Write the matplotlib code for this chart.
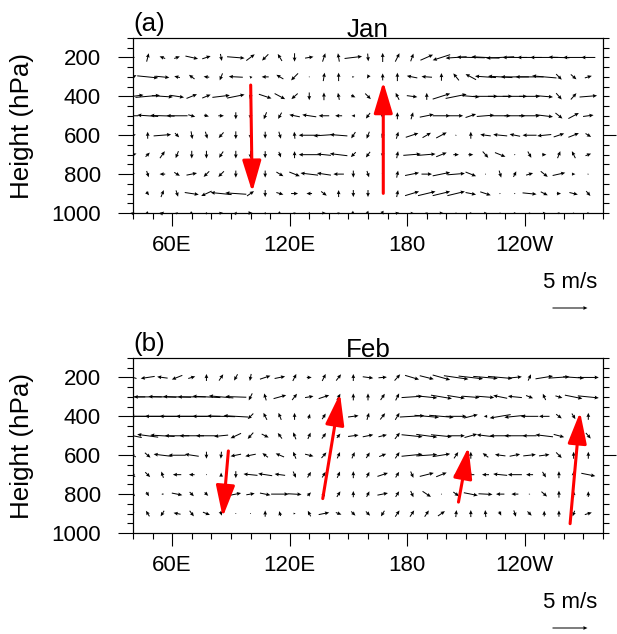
import numpy as np
import matplotlib
matplotlib.use('Agg')
import matplotlib.pyplot as plt
from matplotlib.ticker import FixedLocator, NullFormatter

plt.rcParams['font.family'] = ['Liberation Sans', 'DejaVu Sans']

# ---------------- data ----------------
LONS = [40, 47.5, 55, 62.5, 70, 77.5, 85, 92.5, 100, 107.5, 115, 122.5, 130, 137.5,
        145, 152.5, 160, 167.5, 175, 182.5, 190, 197.5, 205, 212.5, 220, 227.5, 235,
        242.5, 250, 257.5, 265, 272.5]
LEVELS = [200, 300, 400, 500, 600, 700, 800, 900]

XTICK_POS = [60, 120, 180, 240]
XTICK_LABELS = ['60E', '120E', '180', '120W']
YTICK_POS = [200, 400, 600, 800, 1000]
YTICK_LABELS = ['200', '400', '600', '800', '1000']

# January: zonal wind u and scaled vertical velocity w, rows = LEVELS
JAN_U = [
    [0.6, 0.3, -0.8, 0.8, 1.8, 1.2, 0.2, 2.5, 1.2, -0.9, -0.6, 0.0, 1.2, 0.4, -0.2, 2.5, 0.1, 0.0, 0.6, 0.4, 1.8, -2.5, -3.0, -4.0, -4.0, -4.0, -3.5, -3.5, -4.0, -3.0, -3.0, -2.0],
    [1.0, 3.0, 2.0, -0.8, -0.8, -0.8, -0.4, -2.0, -0.3, -1.0, -1.0, -1.0, 0.1, 0.2, 0.0, 0.3, -0.3, 0.0, 0.0, -1.5, -1.5, 0.0, -0.8, -1.5, -3.0, -3.5, -4.0, -4.0, -3.5, 0.8, 0.8, 1.0],
    [3.0, 3.5, 3.0, 2.0, 1.5, 1.2, 2.5, 2.5, -0.2, 1.8, 1.5, -0.9, 0.0, 0.0, -0.2, 0.6, 0.8, -0.4, -0.5, 1.5, 0.0, 2.5, 3.0, 2.5, 3.5, 3.5, 3.5, 3.0, 2.5, 0.8, 0.8, 2.5],
    [-1.5, -3.0, -3.5, -3.0, 1.0, 0.7, 0.8, 0.0, 0.0, -0.4, -0.5, -1.5, -2.0, -1.5, -1.0, -0.5, -0.6, 0.0, 0.0, 0.3, 2.0, 2.5, 2.0, 1.5, 2.5, 3.0, 3.0, 3.0, 2.5, 1.0, 1.5, 1.5],
    [0.8, 0.0, 2.5, 0.6, 0.2, 0.3, -0.7, 0.0, 0.0, 0.0, 0.3, -0.1, -3.0, -3.0, -2.5, -0.6, -0.4, -0.3, 0.3, 1.8, 1.2, 1.5, 0.2, 0.0, -1.5, -2.0, -1.5, -2.0, -2.0, 1.5, 1.5, 0.8],
    [1.0, 0.6, 0.7, -0.4, 0.0, 0.0, -0.6, 0.0, 0.0, 0.0, 0.3, 0.0, -3.0, -2.0, -2.5, -0.7, -0.6, 0.0, 0.2, 2.5, 2.5, 1.5, 0.8, 0.7, 0.8, 1.5, 0.2, 0.5, 0.6, 0.4, -0.5, 0.8],
    [0.5, 0.3, -0.8, 0.8, 1.5, -0.8, -0.8, 0.0, 0.0, 0.0, 1.0, 1.5, -2.5, -2.0, -1.5, 0.0, 0.3, 0.0, 0.2, 2.0, 1.5, 2.5, 2.5, 1.5, 0.1, 0.3, 0.4, 1.0, 1.0, 1.8, 0.5, 0.2],
    [0.3, 0.4, 0.4, 0.3, 2.0, -1.5, -3.0, -3.0, 1.0, 0.0, 1.0, 1.0, -0.8, 0.8, 0.0, 0.0, 0.0, 0.0, 0.2, 2.0, 2.5, 2.5, 2.5, 1.5, 1.5, 0.2, 0.2, 2.0, 1.0, 0.6, 1.2, 0.6],
]
JAN_W = [
    [0.1, 1.2, 0.3, 0.3, -0.4, 0.4, -1.0, -0.2, 0.9, -0.9, 1.0, -1.2, 0.2, 1.2, 1.2, 0.3, -1.1, 1.3, 1.2, 1.1, 0.8, -0.8, -0.2, 0.1, 0.2, -0.2, 0.0, 0.0, 0.0, 0.1, 0.0, 0.0],
    [0.5, -0.3, -0.2, 0.2, 0.6, 0.1, -1.0, 0.1, 0.3, 0.0, 0.6, -1.0, 0.0, 1.2, 1.2, 0.0, -0.5, 1.0, 1.2, 0.3, 0.1, 1.1, 1.0, 0.8, 0.2, 0.2, 0.0, 0.0, 0.3, -0.8, -0.7, 0.3],
    [0.4, 0.3, -0.2, -0.3, 0.6, 0.5, 0.3, 0.5, -0.8, -0.6, -0.8, -0.8, -1.1, 1.1, 1.0, -0.3, -0.8, 1.0, 1.0, -0.2, 1.0, 0.8, 0.6, -0.2, 0.0, 0.0, 0.0, 0.0, -0.2, -0.9, 0.9, 0.2],
    [0.0, 0.2, 0.1, 0.0, -0.3, -0.2, 0.0, -1.0, -1.0, -1.0, -0.9, 0.3, 0.3, 0.0, 0.0, 0.0, -0.8, -0.9, 1.0, 1.0, 0.4, 0.0, 0.0, 0.5, 0.2, 0.0, 0.0, 0.0, -0.3, -0.8, 0.8, 0.2],
    [0.2, 1.0, 0.2, -0.6, -1.1, -1.0, -0.8, -1.1, -1.1, -1.0, -1.0, 1.0, 0.0, -0.2, 0.2, -0.9, -1.0, -0.8, 1.0, 0.6, 0.7, 0.8, 0.0, 1.0, 0.2, 0.2, 0.3, 0.0, -0.2, 0.5, 0.6, -0.5],
    [0.3, 0.6, 1.0, -1.0, -1.1, -1.1, -0.9, -1.1, -1.1, -1.0, -0.8, 1.0, 0.0, 0.2, 0.3, -0.7, -0.8, -0.8, 1.0, 0.2, 0.2, 0.6, 0.0, 0.0, -0.9, -0.6, 0.0, -0.9, 0.0, 1.0, 1.0, 0.3],
    [0.3, -0.9, 0.0, -0.5, 0.3, -0.8, -0.8, -1.0, -1.0, -1.0, -0.6, -0.6, 0.3, 0.3, 0.0, -1.0, -0.9, -0.3, 1.0, 0.4, 0.0, 0.5, 0.2, -0.6, 0.0, -1.0, 0.8, 0.3, -0.8, 0.4, 0.0, 0.0],
    [0.0, -0.5, 1.0, -0.9, -0.3, -0.7, 0.3, 0.2, 0.7, -1.0, -0.3, 0.0, 0.0, -0.6, 1.0, -1.0, -1.0, 0.1, 1.0, 0.6, 0.6, 0.6, 0.6, -0.3, -0.5, 0.0, 0.0, -0.2, -0.5, 0.0, -0.3, -0.7],
]
# near-surface (1000 hPa) January vectors, drawn on the bottom frame
JAN_U_1000 = [0.4, 0.3, 0.5, 0.3, 0.4, 0.2, 0.5, 0.3, 0.6, 0.2, 0.4, 0.3, 0.2, 0.5, 0.3, 0.4,
              0.3, 0.2, 0.5, 0.4, 0.3, 0.5, 0.2, 0.3, 0.4, 0.2, 0.3, 0.2, 0.4, 0.3, 0.2, 0.3]
JAN_W_1000 = [0.3, -0.3, 0.4, 0.2, -0.2, 0.3, 0.1, 0.4, 0.0, 0.3, -0.2, 0.2, 0.3, 0.0, 0.2, -0.3,
              -0.4, -0.5, 0.1, 0.0, 0.2, 0.0, 0.1, 0.0, 0.0, 0.1, 0.0, 0.2, 0.0, 0.1, 0.0, 0.0]

FEB_U = [
    [-1.0, -2.0, -1.5, -1.5, 1.0, 0.0, 0.6, -0.5, -0.2, 1.5, 1.5, 0.5, 0.7, 0.5, 0.7, 0.0, 1.5, 1.2, 0.8, 2.0, 2.0, 2.5, 3.5, 3.5, 3.5, 3.5, 2.0, 0.4, 2.5, 3.0, 3.0, 3.0],
    [-3.5, -4.0, -4.0, -4.0, -4.0, -4.0, -3.5, -3.0, -0.5, -0.3, 1.8, 0.7, 1.2, 1.5, 0.5, 0.0, 0.0, 0.6, 0.5, 3.0, 3.0, 3.0, 2.5, 2.5, 2.5, -2.0, -2.0, 1.0, -0.4, 1.0, 2.5, 3.0],
    [-4.5, -5.0, -5.0, -5.0, -4.5, -4.0, -4.0, -3.5, -0.8, -0.5, -0.4, 0.0, 0.2, 0.5, 0.3, 1.5, 0.3, 0.7, 0.6, 3.5, 3.5, 3.5, 3.0, 2.0, -0.5, -3.0, -3.0, -2.5, -1.5, 0.8, 0.5, 0.0],
    [-2.5, -3.0, -3.5, -3.5, -3.5, -3.0, -2.0, -1.5, -0.8, 1.0, -0.6, -0.4, 0.4, 0.6, 0.5, 1.5, 1.5, 1.2, 0.7, 3.0, 3.0, 3.0, 2.5, 1.8, -2.5, -3.0, -3.0, -2.0, -2.5, 1.5, 0.3, 0.7],
    [-0.8, 0.8, -2.5, -2.5, -2.0, 0.0, -0.1, -1.5, -1.5, -0.8, -1.2, -0.4, 1.2, 0.7, 0.4, 0.4, 0.5, 1.0, 0.6, 3.0, 3.0, 2.5, 0.6, 0.0, -0.8, -1.5, 1.5, 1.8, 1.5, 0.8, 0.0, 0.0],
    [-0.6, 0.7, -0.3, -1.2, -0.8, 0.1, 0.0, 0.0, -2.0, -2.0, -1.5, 0.4, 0.5, 0.5, 0.4, 0.0, 0.4, 1.5, 0.5, 0.4, 2.0, 1.5, 0.3, -1.0, -1.0, -2.0, -2.0, -1.0, 0.5, 0.0, 0.0, 2.0],
    [0.6, 0.4, -0.3, 1.5, 0.6, 0.5, 0.0, 1.5, 1.2, 1.5, 2.5, 2.0, 0.5, 0.3, 0.5, 0.0, 0.4, 1.5, 0.5, 0.4, 1.2, 0.1, 0.8, 2.0, 2.0, -1.2, -1.0, 0.2, 0.8, 0.0, 0.0, 0.0],
    [0.4, -0.5, -0.5, -1.0, 0.6, 1.0, 0.2, 0.1, 0.1, 0.0, -0.2, 0.3, -0.4, 1.5, 0.8, 0.6, 0.6, -0.5, 0.6, 0.6, 0.6, 1.0, 0.1, 0.0, -0.1, 0.3, 0.3, 0.6, 0.0, 0.0, -0.3, 1.0],
]
FEB_W = [
    [0.3, -0.3, 0.2, -0.6, 0.3, 1.0, 0.9, -0.9, -1.0, 0.5, 0.3, 1.0, 0.0, 1.0, 0.9, 1.0, -0.2, 0.1, 0.9, -0.6, -0.5, -0.7, -0.5, -0.4, -0.3, -0.3, 0.2, 0.9, 0.4, 0.2, -0.2, 0.0],
    [0.0, 0.0, 0.1, 0.1, 0.0, 0.2, 0.3, 0.1, -1.0, 1.0, 0.5, 0.9, 0.2, 0.5, 0.9, 1.0, 1.0, 0.9, 1.0, 0.2, -0.3, -0.5, -0.4, -0.2, -0.2, 0.4, 0.2, -0.4, 0.9, -0.3, -0.5, -0.3],
    [0.0, 0.0, 0.0, 0.0, 0.0, 0.0, 0.1, 0.2, -0.8, 1.0, 1.0, 1.0, 0.7, 0.8, 0.5, 0.2, 1.0, 0.9, 1.0, 0.2, -0.3, -0.3, 0.0, 0.5, 0.0, -0.5, -0.3, 0.0, 0.0, -0.6, -0.8, 1.0],
    [0.5, 0.4, 0.2, 0.0, 0.0, 0.0, -0.2, -0.7, -0.9, -0.5, 0.8, 1.0, 0.9, 0.8, 0.6, 0.2, 0.3, 0.3, 0.9, -0.3, -0.4, -0.3, 0.0, 0.5, 0.3, 0.0, 0.0, 0.0, 0.3, -0.4, 0.8, -0.8],
    [0.5, -0.7, 0.3, 0.0, 0.3, -1.0, -1.0, -0.3, -0.3, 0.6, 0.5, 1.0, -0.3, 0.8, 0.9, 0.9, 0.8, 0.4, 0.9, 0.3, 0.2, 0.4, 0.9, 1.0, 0.6, 0.2, 0.3, 0.2, 0.2, -0.8, 1.0, 1.0],
    [0.6, -0.7, 0.9, 0.0, 0.0, 0.0, 0.6, -1.0, 0.2, 0.3, 0.2, -0.9, 0.8, 0.8, 0.9, 1.0, 0.8, 0.5, 0.8, -0.9, 0.5, 0.6, 0.6, 0.0, 0.0, 0.2, 0.0, 0.0, -0.8, 1.0, 1.0, -0.4],
    [-0.6, -0.6, 0.0, -0.3, -0.6, -0.5, -0.5, 0.3, 0.2, -0.3, 0.0, -0.1, 0.5, 0.6, 0.8, 0.9, 0.8, 0.3, 0.8, -0.9, -0.8, 0.0, -0.6, -0.4, -0.1, 0.0, 0.0, 0.0, -0.7, 1.0, 0.9, 0.8],
    [0.5, 0.8, -0.8, 0.2, -0.8, -0.4, -0.6, 0.0, 0.0, 0.9, 0.7, 0.0, 0.8, 0.3, -0.3, -0.6, -0.6, -0.8, 0.9, 0.9, 0.9, 0.7, 1.0, 1.0, 1.0, -0.6, -0.9, -0.6, 0.8, 0.9, -0.8, 0.3],
]

# highlighted (red) circulation arrows: start (lon, hPa) -> end (lon, hPa)
RED_JAN_LON0 = [100.1, 167.8]
RED_JAN_P0 = [342, 899]
RED_JAN_LON1 = [100.9, 167.8]
RED_JAN_P1 = [892, 325]
RED_FEB_LON0 = [88.7, 136.9, 206.2, 263.2]
RED_FEB_P0 = [578, 823, 841, 952]
RED_FEB_LON1 = [85.8, 145.7, 211.3, 268.3]
RED_FEB_P1 = [918, 283, 558, 378]

REF_SPEED = 5
TITLES = ['Jan', 'Feb']
TAGS = ['(a)', '(b)']

# ---------------- figure ----------------
W_PX, H_PX = 617, 634
fig = plt.figure(figsize=(W_PX / 100, H_PX / 100), dpi=100)

FS_TICK = 16
FS_TITLE = 18.7
QSCALE = 14.3  # m/s per inch
QKW = dict(angles='uv', pivot='middle', scale_units='inches', scale=QSCALE,
           units='inches', width=0.010, headwidth=3.8, headlength=4.2,
           headaxislength=3.8, color='black', zorder=3)


def px_rect(left, top, right, bottom):
    return [left / W_PX, 1 - bottom / H_PX, (right - left) / W_PX, (bottom - top) / H_PX]


def panel(rect, U, Wv, U1000, W1000, rl0, rp0, rl1, rp1, title, tag, key_y, ylab_y):
    ax = fig.add_axes(rect)
    ax.set_xlim(40, 280)
    ax.set_ylim(1000, 100)
    X, Y = np.meshgrid(np.array(LONS), np.array(LEVELS))
    q = ax.quiver(X, Y, np.array(U), np.array(Wv), **QKW)
    if U1000 is not None:
        ax.quiver(np.array(LONS), np.full(len(LONS), 1000.0), np.array(U1000),
                  np.array(W1000), clip_on=False, **QKW)
    for a, b, c, d in zip(rl0, rp0, rl1, rp1):
        ax.annotate('', xy=(c, d), xytext=(a, b),
                    arrowprops=dict(arrowstyle='-|>,head_length=0.4,head_width=0.12',
                                    mutation_scale=48, color='red', lw=2.2,
                                    shrinkA=0, shrinkB=0), zorder=5)
    # ticks
    ax.xaxis.set_major_locator(FixedLocator(XTICK_POS))
    ax.set_xticklabels(XTICK_LABELS, fontsize=FS_TICK)
    ax.xaxis.set_minor_locator(FixedLocator(list(range(40, 281, 10))))
    ax.yaxis.set_major_locator(FixedLocator(YTICK_POS))
    ax.set_yticklabels(YTICK_LABELS, fontsize=FS_TICK)
    ax.yaxis.set_minor_locator(FixedLocator(list(range(100, 1001, 50))))
    ax.tick_params(axis='x', which='major', direction='out', length=9.5, width=0.8,
                   pad=6, top=False, bottom=True)
    ax.tick_params(axis='x', which='minor', direction='out', length=4, width=0.8,
                   top=False, bottom=True)
    ax.tick_params(axis='y', which='major', direction='out', length=11, width=0.8,
                   pad=12, left=True, right=False)
    ax.tick_params(axis='y', which='minor', direction='out', length=4, width=0.8,
                   left=True, right=False)
    for s in ax.spines.values():
        s.set_linewidth(0.8)
    # right axis ticks
    ax2 = ax.twinx()
    ax2.set_ylim(1000, 100)
    ax2.yaxis.set_major_locator(FixedLocator([600]))
    ax2.yaxis.set_minor_locator(FixedLocator(list(range(100, 1001, 50))))
    ax2.yaxis.set_major_formatter(NullFormatter())
    ax2.tick_params(axis='y', which='major', direction='out', length=9.5, width=0.8)
    ax2.tick_params(axis='y', which='minor', direction='out', length=4, width=0.8)
    ax2.spines['right'].set_linewidth(0.8)
    # titles
    ax.text(0.5, 1.0 + 1 / 175, title, transform=ax.transAxes, ha='center',
            va='baseline', fontsize=FS_TITLE)
    ax.text(0.0, 1.0 + 7 / 175, tag, transform=ax.transAxes, ha='left',
            va='baseline', fontsize=FS_TITLE)
    fig.text(22 / W_PX, ylab_y, 'Height (hPa)', rotation=90, ha='center', va='center',
             fontsize=FS_TITLE)
    ax.quiverkey(q, 570 / W_PX, key_y, REF_SPEED, f'{REF_SPEED} m/s', labelpos='N',
                 coordinates='figure', labelsep=0.15,
                 fontproperties={'size': FS_TICK})
    return ax


panel(px_rect(133, 38, 603, 213), JAN_U, JAN_W, JAN_U_1000, JAN_W_1000,
      RED_JAN_LON0, RED_JAN_P0, RED_JAN_LON1, RED_JAN_P1, TITLES[0], TAGS[0],
      1 - 308 / H_PX, 1 - 126 / H_PX)
panel(px_rect(133, 358, 603, 533), FEB_U, FEB_W, None, None,
      RED_FEB_LON0, RED_FEB_P0, RED_FEB_LON1, RED_FEB_P1, TITLES[1], TAGS[1],
      1 - 628 / H_PX, 1 - 446 / H_PX)

fig.savefig('out.png', dpi=100)
